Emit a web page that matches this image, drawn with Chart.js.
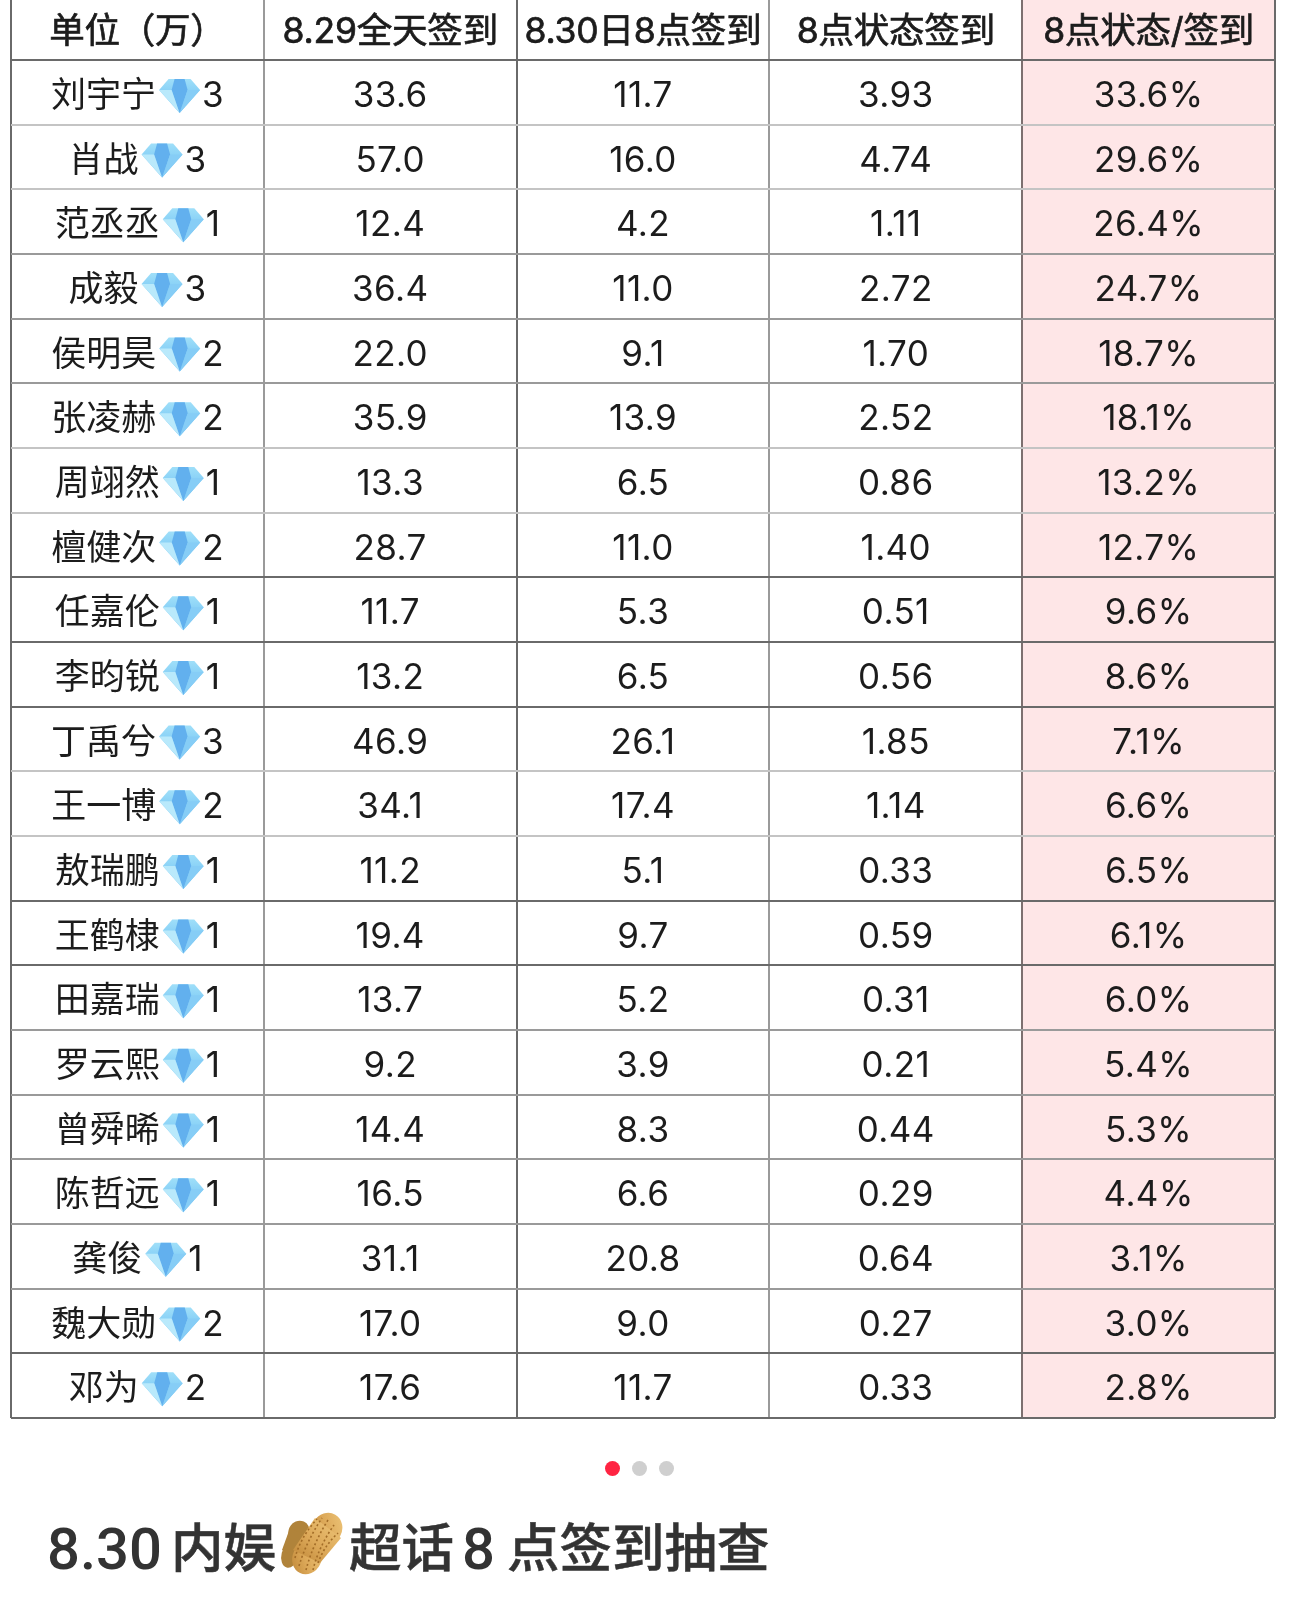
<!DOCTYPE html>
<html>
<head>
<meta charset="utf-8">
<script src="https://cdn.jsdelivr.net/npm/chart.js@4"></script>
<style>
html, body { margin: 0; padding: 0; background: #fff; }
body { position: relative; width: 1289px; height: 1617px; overflow: hidden; }
#chartT { position: absolute; left: 0; top: 0; }
.dot { position: absolute; width: 15px; height: 15px; border-radius: 50%; top: 1461px; background: #cfcfcf; }
h1 { margin: 0; }
h1 span { position: absolute; top: 1512px; white-space: nowrap; color: #333; -webkit-text-stroke: 0.5px #333;
     font: 500 52.5px/74px Roboto, "Noto Sans CJK SC", sans-serif; }
h1 span.num { font-size: 58px; -webkit-text-stroke: 0; }
#peanut { position: absolute; left: 270px; top: 1500px; }
</style>
</head>
<body>
<canvas id="chartT" width="1289" height="1425"></canvas>
<div class="dot" style="left:605px;background:#ff2442"></div>
<div class="dot" style="left:632px"></div>
<div class="dot" style="left:659px"></div>
<h1><span class="num" style="left:47px">8.30</span><span style="left:171px">内娱</span><span style="left:349px">超话</span><span class="num" style="left:462px">8</span><span style="left:507px">点签到抽查</span></h1>
<svg id="peanut" width="90" height="90" viewBox="0 0 90 90">
  <defs>
    <linearGradient id="pg" x1="1" y1="0" x2="0" y2="1">
      <stop offset="0" stop-color="#eec67a"/><stop offset="0.55" stop-color="#dca858"/><stop offset="1" stop-color="#bd8536"/>
    </linearGradient>
  </defs>
  <g fill="#b0833a">
    <ellipse cx="29" cy="32" rx="10.5" ry="11.5" transform="rotate(25 29 32)"/>
    <ellipse cx="20" cy="55" rx="8.5" ry="13" transform="rotate(15 20 55)"/>
    <path d="M20 28 L38 36 L27 58 L12 50 Z"/>
  </g>
  <g fill="url(#pg)">
    <ellipse cx="57" cy="29" rx="15" ry="16.5" transform="rotate(30 57 29)"/>
    <ellipse cx="37" cy="58" rx="14.5" ry="16.5" transform="rotate(25 37 58)"/>
    <path d="M45 18 L71 38 L50 63 L23 50 Z"/>
  </g>
  <g fill="none" stroke="#a26c27" stroke-width="1.6" stroke-dasharray="2 2.4">
    <path d="M29 66 Q36 42 52 18"/>
    <path d="M36 70 Q42 46 58 20"/>
    <path d="M43 70 Q48 48 64 25"/>
    <path d="M25 58 Q30 38 47 19"/>
    <path d="M48 63 Q54 46 68 33"/>
  </g>
</svg>
<script>
// column headers
var columns = ["单位（万）", "8.29全天签到", "8.30日8点签到", "8点状态签到", "8点状态/签到"];
var names = ["刘宇宁", "肖战", "范丞丞", "成毅", "侯明昊", "张凌赫", "周翊然", "檀健次", "任嘉伦", "李昀锐", "丁禹兮",
             "王一博", "敖瑞鹏", "王鹤棣", "田嘉瑞", "罗云熙", "曾舜晞", "陈哲远", "龚俊", "魏大勋", "邓为"];
var diamonds = [3, 3, 1, 3, 2, 2, 1, 2, 1, 1, 3, 2, 1, 1, 1, 1, 1, 1, 1, 2, 2];
var allDay = [33.6, 57.0, 12.4, 36.4, 22.0, 35.9, 13.3, 28.7, 11.7, 13.2, 46.9, 34.1, 11.2, 19.4, 13.7, 9.2, 14.4, 16.5, 31.1, 17.0, 17.6];
var at8 = [11.7, 16.0, 4.2, 11.0, 9.1, 13.9, 6.5, 11.0, 5.3, 6.5, 26.1, 17.4, 5.1, 9.7, 5.2, 3.9, 8.3, 6.6, 20.8, 9.0, 11.7];
var status8 = [3.93, 4.74, 1.11, 2.72, 1.70, 2.52, 0.86, 1.40, 0.51, 0.56, 1.85, 1.14, 0.33, 0.59, 0.31, 0.21, 0.44, 0.29, 0.64, 0.27, 0.33];
var ratio = [33.6, 29.6, 26.4, 24.7, 18.7, 18.1, 13.2, 12.7, 9.6, 8.6, 7.1, 6.6, 6.5, 6.1, 6.0, 5.4, 5.3, 4.4, 3.1, 3.0, 2.8];

var HEADER_TOP = -0.93;
var rowCount = names.length;
var DARK = "#6a6a6a", MID = "#9a9a9a", LIGHT = "#c4c4c4";
var rowLines = [DARK, LIGHT, LIGHT, MID, MID, MID, LIGHT, LIGHT, DARK, DARK, DARK, LIGHT, LIGHT, DARK, DARK, MID, MID, MID, MID, MID, DARK, DARK];
var colLines = [DARK, MID, DARK, MID, "#7d7070", DARK];
var FONT = 'Inter, "Noto Sans CJK SC", sans-serif';

function drawDiamond(ctx, cx, cy) {
    ctx.save();
    ctx.translate(cx, cy);
    var g = ctx.createLinearGradient(0, -17, 0, 17);
    g.addColorStop(0, "#9fdff9");
    g.addColorStop(1, "#63b9f2");
    ctx.fillStyle = g;
    ctx.beginPath();
    ctx.moveTo(-11, -17); ctx.lineTo(11, -17); ctx.lineTo(20.5, -6); ctx.lineTo(0, 17); ctx.lineTo(-20.5, -6);
    ctx.closePath();
    ctx.fill();
    // darker facets in the middle
    ctx.fillStyle = "#62b0ee";
    ctx.beginPath();
    ctx.moveTo(-5, -17); ctx.lineTo(5, -17); ctx.lineTo(8, -6); ctx.lineTo(0, 17); ctx.lineTo(-8, -6);
    ctx.closePath();
    ctx.fill();
    ctx.fillStyle = "#b9e9fb";
    ctx.beginPath();
    ctx.moveTo(-20.5, -6); ctx.lineTo(-8, -6); ctx.lineTo(0, 17);
    ctx.closePath();
    ctx.fill();
    ctx.fillStyle = "#86cdf6";
    ctx.beginPath();
    ctx.moveTo(20.5, -6); ctx.lineTo(8, -6); ctx.lineTo(0, 17);
    ctx.closePath();
    ctx.fill();
    ctx.restore();
}

var tableText = {
    id: "tableText",
    afterDraw: function (chart) {
        var ctx = chart.ctx, xs = chart.scales.x, ys = chart.scales.y;
        ctx.save();
        ctx.fillStyle = "#1c1c1c";
        ctx.strokeStyle = "#1c1c1c";
        ctx.textBaseline = "alphabetic";

        // header row, slight stroke because the header reads heavier than regular
        ctx.font = "35.5px " + FONT;
        ctx.letterSpacing = "-0.2px";
        ctx.textAlign = "center";
        ctx.lineWidth = 0.7;
        var headY = ys.getPixelForValue(HEADER_TOP / 2) + 13;
        columns.forEach(function (c, i) {
            ctx.fillText(c, xs.getPixelForValue(i), headY);
            ctx.strokeText(c, xs.getPixelForValue(i), headY);
        });

        for (var r = 0; r < rowCount; r++) {
            var y = ys.getPixelForValue(r + 0.5);
            var base = y + 14.5;
            ctx.textAlign = "center";
            ctx.font = "35px " + FONT;
            ctx.letterSpacing = "0.4px";
            ctx.fillText(allDay[r].toFixed(1), xs.getPixelForValue(1), base);
            ctx.fillText(at8[r].toFixed(1), xs.getPixelForValue(2), base);
            ctx.fillText(status8[r].toFixed(2), xs.getPixelForValue(3), base);
            ctx.fillText(ratio[r].toFixed(1) + "%", xs.getPixelForValue(4), base);

            // name + diamond + count
            ctx.font = "35px " + FONT;
            ctx.letterSpacing = "0px";
            ctx.textAlign = "left";
            var nw = ctx.measureText(names[r]).width;
            var cnt = String(diamonds[r]);
            var cw = ctx.measureText(cnt).width;
            var total = nw + 46 + cw;
            var left = xs.getPixelForValue(0) - total / 2;
            ctx.fillText(names[r], left, base);
            drawDiamond(ctx, left + nw + 23.5, y + 3.5);
            ctx.fillText(cnt, left + nw + 46, base);
        }
        ctx.restore();
    }
};

var ctx = document.getElementById("chartT");
var chartT = new Chart(ctx, {
    type: "bar",
    data: {
        labels: columns,
        datasets: [{
            label: "8点状态/签到",
            data: columns.map(function (c, i) { return i == 4 ? [HEADER_TOP, rowCount] : null; }),
            backgroundColor: "#fee6e7",
            barPercentage: 1,
            categoryPercentage: 1,
        }],
    },
    options: {
        responsive: false,
        animation: false,
        layout: { padding: { left: 11, right: 14, top: 0, bottom: 7 } },
        plugins: { legend: { display: false }, tooltip: { enabled: false } },
        scales: {
            x: {
                type: "category",
                offset: true,
                ticks: { display: false },
                border: { display: false },
                grid: {
                    offset: true, z: 1, drawTicks: false, lineWidth: 2,
                    color: function (c) { return colLines[c.index] || DARK; },
                },
            },
            y: {
                type: "linear",
                reverse: true,
                min: HEADER_TOP,
                max: rowCount,
                afterBuildTicks: function (scale) {
                    scale.ticks = rowLines.map(function (c, i) { return { value: i }; });
                },
                ticks: { display: false },
                border: { display: false },
                grid: {
                    z: 1, drawTicks: false, lineWidth: 2,
                    color: function (c) { return rowLines[c.index]; },
                },
            },
        },
    },
    plugins: [tableText],
});
</script>
</body>
</html>
